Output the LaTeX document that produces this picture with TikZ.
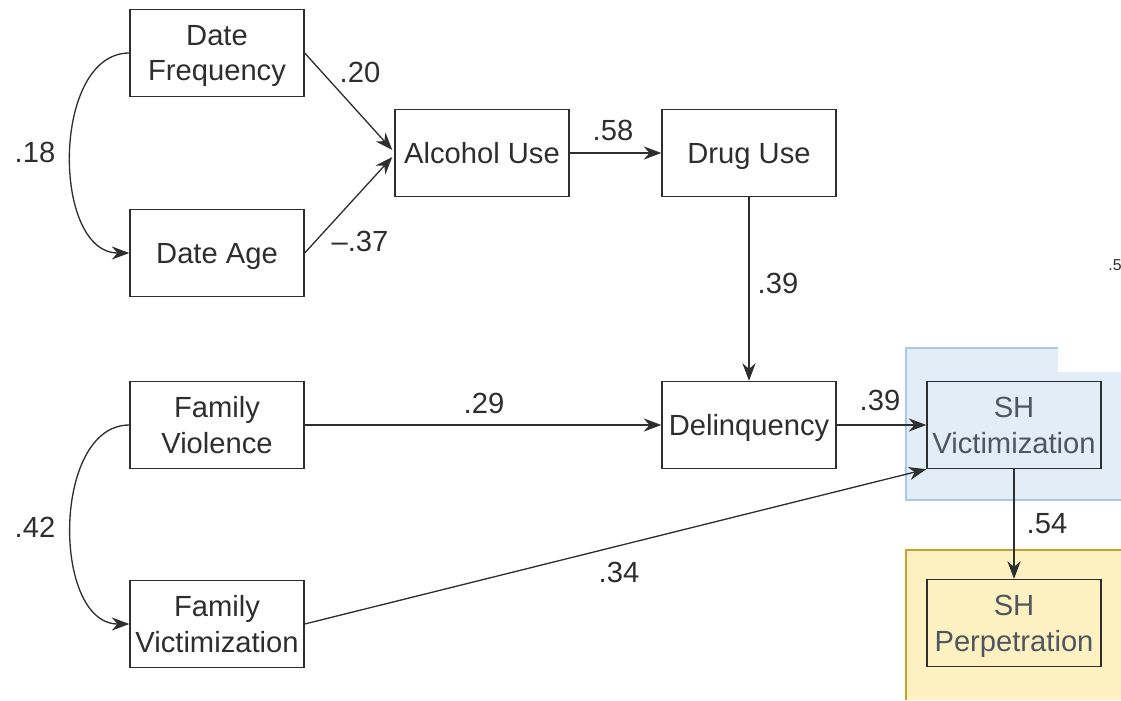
\documentclass[tikz,border=0pt]{standalone}
\usepackage{fontspec}
\setmainfont{Liberation Sans}
\usetikzlibrary{arrows.meta,calc}
\definecolor{ink}{HTML}{2E2E2E}
\definecolor{vicfill}{HTML}{E2EDF8}
\definecolor{vicline}{HTML}{A9C9EA}
\definecolor{perpfill}{HTML}{FDF1C2}
\definecolor{perpline}{HTML}{C9A227}
\definecolor{fadetxt}{HTML}{4F5660}

\begin{document}
\begin{tikzpicture}[x=0.02cm, y=-0.02cm, font=\fontsize{16.6}{20.4}\selectfont,
  var/.style={draw=ink, line width=0.8pt, text=ink, minimum width=3.48cm, minimum height=1.74cm, align=center, inner sep=0pt, text depth=0pt},
  path/.style={-{Stealth[length=10pt, width=7.5pt]}, ink, line width=0.75pt},
  coef/.style={text=ink, inner sep=0pt}]
  \useasboundingbox (0,0) rectangle (1121,700);
  % shaded outcome regions
  \fill[vicfill] (906,348) -- (1058,348) -- (1058,372) -- (1121,372) -- (1121,500) -- (906,500) -- cycle;
  \draw[vicline, line width=1.4pt] (1058,348) -- (906,348) -- (906,500) -- (1121,500);
  \fill[perpfill] (906,550) rectangle (1121,700);
  \draw[perpline, line width=1.6pt] (906,700) -- (906,550) -- (1121,550);

  \node[var] (dfreq) at (217,53) {Date\\Frequency};
  \node[var] (dage) at (217,253) {Date Age};
  \node[var] (alc) at (482,153) {Alcohol Use};
  \node[var] (drug) at (749,153) {Drug Use};
  \node[var] (fviol) at (217,425) {Family\\Violence};
  \node[var] (delinq) at (749,425) {Delinquency};
  \node[var] (fvict) at (217,624) {Family\\Victimization};
  \node[var, text=fadetxt] (shvict) at (1014,425) {SH\\Victimization};
  \node[var, text=fadetxt] (shperp) at (1014,623) {SH\\Perpetration};

  \draw[path] (dfreq.west) to[out=180, in=180, looseness=1] (dage.west);
  \draw[path] (fviol.west) to[out=180, in=180, looseness=1] (fvict.west);
  \draw[path] (dfreq.east) -- ($(alc.west)+(-2,-3)$);
  \draw[path] (dage.east) -- ($(alc.west)+(-2,4)$);
  \draw[path] (alc.east) -- (drug.west);
  \draw[path] (drug.south) -- (delinq.north);
  \draw[path] (fviol.east) -- (delinq.west);
  \draw[path] (delinq.east) -- (shvict.west);
  \draw[path] (fvict.east) -- (shvict.south west);
  \draw[path] (shvict.south) -- (shperp.north);

  \foreach \x/\y/\val in {360/72/.20, 35/152/.18, 360/241/{--.37}, 613/130/.58, 778/283/.39,
      484/403/.29, 880/400/.39, 35/527/.42, 619/572/.34, 1047/524/.54}{
    \node[coef] at (\x,\y) {\val};
  }
  \node[coef, anchor=west, font=\fontsize{9}{10}\selectfont] at (1108,265) {.5};
\end{tikzpicture}
\end{document}
